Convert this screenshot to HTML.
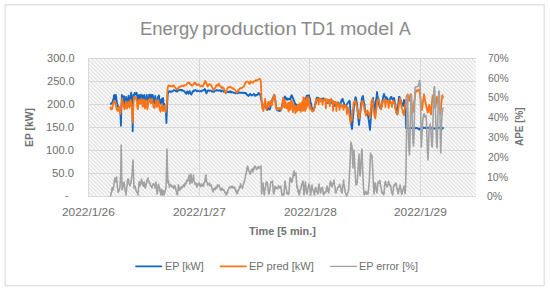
<!DOCTYPE html>
<html><head><meta charset="utf-8"><title>Energy production TD1 model A</title>
<style>
html,body{margin:0;padding:0;background:#fff;}
body{width:550px;height:291px;position:relative;overflow:hidden;font-family:"Liberation Sans",sans-serif;color:#666;}
.t{position:absolute;white-space:nowrap;line-height:1;transform-origin:0 0;}
</style></head><body>
<svg width="550" height="291" viewBox="0 0 550 291" style="position:absolute;left:0;top:0">
<defs><pattern id="h" width="2.8284" height="8" patternUnits="userSpaceOnUse" patternTransform="translate(90 58) rotate(-45)"><rect x="0" y="0" width="1.2" height="8" fill="#dbdbdb"/></pattern></defs>
<rect x="5.2" y="4.8" width="539" height="280.8" fill="#fff" stroke="#dedede" stroke-width="1.3"/>
<rect x="88.0" y="58.0" width="388.0" height="138.5" fill="url(#h)"/>
<line x1="88.0" x2="476.0" y1="58.50" y2="58.50" stroke="#d8d8d8" stroke-width="1"/>
<line x1="88.0" x2="476.0" y1="81.50" y2="81.50" stroke="#d8d8d8" stroke-width="1"/>
<line x1="88.0" x2="476.0" y1="104.50" y2="104.50" stroke="#d8d8d8" stroke-width="1"/>
<line x1="88.0" x2="476.0" y1="127.50" y2="127.50" stroke="#d8d8d8" stroke-width="1"/>
<line x1="88.0" x2="476.0" y1="150.50" y2="150.50" stroke="#d8d8d8" stroke-width="1"/>
<line x1="88.0" x2="476.0" y1="173.50" y2="173.50" stroke="#d8d8d8" stroke-width="1"/>
<line x1="88.0" x2="476.0" y1="196.50" y2="196.50" stroke="#d8d8d8" stroke-width="1"/>
<line x1="88.50" x2="88.50" y1="58.0" y2="196.5" stroke="#d8d8d8" stroke-width="1"/>
<line x1="199.50" x2="199.50" y1="58.0" y2="196.5" stroke="#d8d8d8" stroke-width="1"/>
<line x1="309.50" x2="309.50" y1="58.0" y2="196.5" stroke="#d8d8d8" stroke-width="1"/>
<line x1="420.50" x2="420.50" y1="58.0" y2="196.5" stroke="#d8d8d8" stroke-width="1"/>
<path d="M110.8,103.8 L111.2,103.9 L111.7,103.5 L112.1,102.5 L112.6,102.0 L113.0,100.2 L113.5,99.0 L113.8,96.6 L114.2,95.0 L114.5,97.5 L114.8,100.0 L115.1,99.1 L115.4,99.0 L115.9,95.0 L116.2,96.9 L116.5,100.0 L117.0,103.0 L117.5,104.7 L118.1,106.4 L118.6,108.0 L119.1,108.2 L119.7,107.6 L120.2,108.0 L120.6,116.9 L120.9,125.8 L121.2,114.9 L121.5,104.0 L121.9,95.0 L122.2,97.4 L122.5,101.0 L122.8,102.2 L123.2,103.0 L123.6,99.7 L124.0,96.2 L124.3,100.1 L124.6,102.0 L125.0,105.0 L125.3,103.6 L125.6,102.0 L125.9,99.3 L126.2,96.8 L126.5,99.9 L126.8,102.0 L127.1,103.1 L127.4,104.0 L127.7,102.9 L128.0,101.0 L128.3,98.2 L128.6,95.6 L128.9,98.4 L129.2,101.0 L129.5,102.9 L129.8,104.0 L130.2,101.8 L130.5,99.0 L130.8,95.9 L131.2,92.6 L131.5,95.4 L131.8,99.0 L132.3,104.0 L132.7,131.3 L133.1,104.0 L133.6,94.8 L133.9,96.1 L134.2,97.0 L134.5,94.9 L134.8,92.8 L135.2,93.7 L135.7,94.0 L136.1,93.5 L136.6,92.8 L136.9,94.8 L137.2,96.0 L137.5,98.5 L137.8,101.0 L138.1,100.1 L138.4,99.0 L138.7,97.3 L139.0,95.0 L139.3,97.1 L139.6,100.0 L140.0,103.0 L140.3,100.3 L140.6,98.0 L141.0,94.6 L141.3,97.1 L141.6,100.0 L142.0,103.0 L142.3,100.0 L142.6,95.4 L142.9,98.2 L143.2,101.0 L143.5,102.8 L143.8,104.0 L144.1,99.6 L144.4,95.0 L144.7,97.4 L145.0,100.0 L145.3,100.9 L145.6,103.0 L145.9,103.9 L146.2,104.0 L146.5,99.5 L146.8,95.0 L147.1,98.3 L147.4,101.0 L147.7,102.0 L148.0,104.0 L148.3,101.8 L148.6,100.0 L148.9,97.8 L149.2,94.6 L149.5,97.4 L149.8,99.0 L150.1,99.5 L150.4,101.0 L150.7,97.3 L151.0,94.6 L151.3,97.3 L151.6,100.0 L151.9,101.8 L152.2,103.0 L152.5,99.1 L152.8,95.0 L153.1,97.6 L153.4,100.0 L153.7,101.1 L154.0,103.0 L154.3,103.5 L154.6,103.5 L154.9,100.2 L155.2,96.0 L155.5,98.3 L155.8,101.0 L156.1,101.9 L156.4,104.0 L156.7,103.2 L157.0,103.0 L157.3,101.3 L157.6,99.0 L157.9,97.1 L158.2,96.6 L158.6,96.0 L158.9,95.4 L159.4,100.0 L159.7,101.1 L160.0,103.0 L160.3,101.4 L160.6,100.0 L160.9,102.1 L161.3,104.4 L161.6,101.7 L161.9,99.0 L162.2,101.1 L162.5,102.0 L162.8,100.2 L163.1,98.0 L163.4,102.6 L163.7,106.8 L164.0,105.3 L164.3,104.0 L164.6,105.8 L164.9,108.0 L165.4,109.2 L165.8,110.0 L166.1,116.2 L166.4,123.0 L166.7,115.5 L167.0,108.0 L167.3,102.0 L167.6,96.0 L167.9,93.8 L168.2,92.5 L168.6,92.1 L168.9,91.5 L169.3,91.4 L169.8,91.0 L170.2,91.8 L170.7,91.8 L171.1,91.6 L171.6,91.9 L172.1,91.3 L172.7,91.0 L173.1,90.6 L173.4,90.7 L173.8,90.0 L174.3,90.3 L174.8,90.5 L175.3,90.8 L175.8,91.2 L176.4,90.7 L176.9,91.5 L177.4,91.4 L178.0,90.6 L178.4,90.1 L178.8,90.3 L179.2,90.0 L179.7,89.7 L180.2,89.7 L180.7,90.0 L181.2,89.9 L181.7,90.6 L182.2,90.0 L182.6,90.5 L182.9,90.4 L183.3,90.8 L183.7,90.9 L184.1,90.9 L184.5,91.5 L184.8,92.0 L185.2,92.6 L185.6,93.0 L186.0,93.8 L186.4,93.3 L186.8,92.4 L187.2,91.4 L187.5,91.2 L188.0,92.6 L188.3,93.1 L188.6,93.8 L188.9,92.8 L189.2,92.4 L189.5,91.6 L189.8,91.2 L190.2,92.3 L190.5,93.0 L190.9,93.8 L191.3,94.6 L191.7,93.9 L192.0,92.8 L192.4,92.4 L192.8,91.2 L193.3,91.4 L193.8,90.5 L194.3,90.8 L194.8,90.8 L195.3,90.0 L195.8,90.4 L196.4,90.5 L196.9,91.2 L197.4,90.6 L198.0,90.8 L198.5,90.9 L199.0,91.2 L199.5,91.3 L200.0,91.5 L200.5,91.3 L201.0,90.9 L201.5,91.3 L202.0,91.0 L202.5,90.5 L203.0,90.4 L203.5,90.1 L203.9,89.8 L204.4,89.6 L204.9,88.9 L205.2,90.1 L205.6,91.0 L206.0,92.4 L206.4,93.4 L206.8,92.4 L207.2,91.5 L207.6,90.6 L208.0,90.4 L208.5,90.3 L209.0,90.8 L209.5,90.9 L209.9,90.7 L210.4,90.5 L210.9,90.8 L211.4,90.8 L211.9,91.6 L212.5,91.8 L213.1,91.4 L213.6,91.9 L214.1,91.6 L214.6,90.8 L215.1,90.6 L215.7,90.7 L216.2,90.3 L216.7,90.0 L217.2,90.4 L217.6,90.5 L218.1,90.5 L218.6,90.7 L219.0,90.3 L219.5,90.5 L220.0,90.2 L220.6,90.8 L221.1,91.5 L221.6,90.8 L222.2,90.4 L222.7,90.8 L223.2,91.1 L223.7,91.7 L224.2,91.2 L224.8,92.0 L225.3,91.9 L225.8,92.3 L226.4,92.6 L226.9,92.3 L227.4,92.0 L228.0,91.8 L228.5,92.3 L228.9,91.6 L229.4,91.4 L229.8,92.1 L230.3,91.5 L230.7,91.4 L231.2,92.5 L231.6,92.0 L232.0,92.2 L232.5,92.1 L232.9,92.5 L233.4,92.7 L233.9,92.9 L234.3,93.0 L234.8,93.2 L235.2,93.4 L235.7,92.4 L236.1,92.8 L236.5,92.9 L237.0,92.8 L237.5,93.4 L238.0,92.2 L238.5,92.7 L239.0,92.8 L239.5,92.4 L239.9,92.5 L240.4,92.9 L240.9,92.8 L241.3,93.1 L241.8,92.6 L242.3,92.5 L242.9,92.8 L243.4,93.1 L244.0,93.0 L244.5,92.7 L245.1,93.2 L245.6,92.9 L246.1,93.2 L246.7,94.5 L247.2,94.5 L247.6,95.0 L247.9,95.5 L248.3,96.0 L248.8,95.5 L249.2,94.8 L249.7,94.5 L250.2,93.7 L250.6,94.7 L251.0,94.7 L251.3,95.1 L251.7,95.6 L252.1,95.1 L252.6,94.8 L253.1,94.6 L253.6,94.1 L254.1,94.0 L254.5,94.5 L255.0,95.8 L255.5,95.0 L256.0,95.6 L256.5,94.9 L257.0,94.8 L257.6,94.8 L258.1,93.8 L258.6,92.9 L259.2,93.4 L259.6,94.1 L260.0,94.6 L260.4,95.2 L260.7,97.1 L261.0,98.0 L261.5,101.2 L262.0,104.0 L262.5,106.8 L263.0,109.0 L263.5,108.0 L264.0,106.0 L264.5,103.7 L265.0,102.0 L265.5,105.1 L266.0,108.0 L266.5,107.8 L267.0,110.0 L267.5,109.5 L268.0,108.0 L268.5,107.8 L268.9,108.6 L269.4,109.5 L269.8,109.3 L270.1,108.7 L270.5,107.0 L271.0,104.6 L271.5,104.0 L271.9,103.8 L272.3,100.0 L272.6,98.3 L273.0,97.6 L273.4,97.7 L273.8,96.2 L274.1,96.6 L274.5,95.2 L275.0,98.0 L275.4,101.2 L275.8,104.0 L276.2,106.2 L276.6,108.0 L277.1,110.3 L277.5,110.1 L278.0,110.0 L278.5,110.7 L279.0,109.0 L279.5,111.0 L280.0,109.7 L280.5,110.7 L281.0,109.0 L281.5,107.5 L282.0,104.8 L282.5,104.0 L283.0,101.4 L283.5,100.0 L283.9,98.5 L284.3,97.5 L284.6,97.6 L285.0,96.4 L285.4,97.5 L285.8,98.0 L286.1,99.6 L286.5,99.4 L286.9,98.3 L287.3,98.6 L287.6,99.9 L288.0,99.4 L288.5,98.8 L289.0,99.2 L289.4,98.7 L289.9,98.8 L290.4,99.5 L290.8,97.0 L291.2,96.2 L291.7,95.2 L292.1,96.2 L292.6,97.5 L293.1,98.6 L293.5,100.0 L293.9,100.6 L294.4,101.8 L294.9,104.1 L295.3,103.6 L295.8,105.3 L296.2,104.6 L296.6,105.6 L297.0,105.4 L297.5,105.6 L298.0,106.5 L298.5,105.6 L299.1,105.6 L299.6,106.2 L300.1,106.3 L300.7,106.0 L301.1,106.7 L301.6,108.8 L302.0,108.0 L302.5,110.4 L303.0,109.7 L303.5,109.0 L304.0,106.0 L304.5,101.8 L305.0,101.0 L305.5,100.9 L306.0,97.5 L306.4,97.3 L306.7,95.8 L307.1,95.5 L307.4,96.0 L307.8,96.2 L308.2,96.9 L308.6,96.6 L309.0,95.2 L309.4,97.4 L309.8,98.0 L310.2,100.1 L310.6,102.0 L311.1,104.0 L311.5,106.0 L311.9,108.2 L312.4,109.0 L312.9,109.9 L313.3,111.0 L313.7,109.2 L314.1,108.4 L314.5,108.0 L314.9,105.9 L315.3,104.3 L315.7,102.0 L316.1,102.6 L316.5,98.0 L316.9,97.8 L317.3,98.2 L317.6,97.6 L318.0,97.6 L318.5,98.2 L319.0,98.2 L319.5,99.8 L320.0,99.0 L320.5,99.9 L321.0,98.6 L321.5,99.0 L322.0,99.6 L322.5,98.8 L323.0,99.0 L323.5,98.3 L324.0,100.0 L324.5,99.6 L325.0,99.3 L325.5,100.8 L326.0,100.0 L326.5,99.6 L327.0,99.6 L327.5,101.9 L328.0,103.0 L328.5,102.6 L329.0,101.0 L329.5,100.8 L330.0,99.8 L330.5,101.4 L331.0,101.0 L331.5,101.9 L332.0,103.0 L332.5,101.5 L333.0,101.5 L333.5,101.4 L334.0,103.5 L334.5,105.6 L335.0,106.0 L335.5,104.7 L336.0,104.0 L336.5,103.2 L337.0,103.0 L337.5,103.5 L338.0,102.5 L338.5,103.0 L339.0,105.0 L339.5,107.1 L340.0,106.0 L340.5,104.6 L341.0,102.0 L341.5,100.5 L342.0,100.0 L342.4,98.9 L342.7,99.0 L343.1,101.5 L343.5,102.0 L343.9,102.4 L344.3,105.0 L344.6,105.4 L345.0,107.0 L345.5,106.5 L346.0,106.0 L346.5,105.2 L347.0,104.0 L347.5,103.3 L348.0,102.5 L348.5,102.2 L349.0,101.2 L349.4,100.8 L349.8,101.0 L350.3,110.0 L350.6,116.0 L351.0,122.0 L351.5,126.6 L352.0,129.0 L352.5,123.7 L353.0,118.0 L353.5,111.9 L354.0,106.0 L354.5,104.5 L355.0,100.0 L355.5,97.2 L356.0,98.0 L356.5,101.1 L357.0,104.0 L357.5,110.2 L358.0,116.0 L358.5,120.8 L359.0,125.0 L359.5,120.5 L360.0,116.0 L360.5,109.9 L361.0,104.0 L361.5,101.5 L362.0,98.0 L362.5,96.8 L363.0,96.0 L363.5,99.9 L364.0,103.0 L364.5,103.9 L365.0,110.0 L365.5,111.3 L366.0,112.0 L366.5,111.8 L367.0,113.0 L367.5,114.8 L368.0,115.0 L368.5,119.2 L369.0,122.0 L369.5,126.7 L370.0,130.0 L370.5,122.9 L371.0,116.0 L371.5,110.1 L372.0,104.0 L372.5,100.7 L373.0,98.0 L373.5,102.2 L374.0,106.0 L374.5,108.9 L375.0,112.0 L375.5,105.8 L376.0,100.0 L376.5,97.8 L377.0,92.0 L377.5,95.7 L378.0,98.0 L378.5,99.1 L379.0,104.0 L379.5,106.8 L380.0,108.0 L380.5,107.2 L381.0,109.0 L381.5,106.3 L382.0,104.0 L382.5,100.5 L383.0,98.0 L383.5,95.5 L384.0,94.0 L384.5,95.7 L385.0,97.0 L385.5,97.7 L386.0,99.0 L386.5,97.2 L387.0,98.0 L387.5,99.0 L388.0,100.0 L388.5,100.8 L389.0,101.0 L389.5,101.6 L390.0,99.0 L390.5,97.6 L391.0,97.0 L391.5,96.9 L392.0,99.0 L392.5,99.2 L393.0,100.0 L393.5,99.6 L394.0,98.0 L394.5,100.2 L395.0,104.0 L395.5,106.4 L396.0,110.0 L396.5,112.5 L397.0,114.0 L397.5,110.0 L398.0,106.0 L398.5,101.6 L399.0,97.0 L399.5,96.9 L400.0,98.0 L400.5,99.3 L401.0,102.0 L401.5,103.2 L402.0,105.0 L402.5,105.4 L403.0,106.0 L403.5,102.7 L404.0,100.0 L404.5,102.4 L405.0,104.0 L405.3,107.5 L405.6,110.0 L406.0,128.0 L406.5,128.1 L407.0,128.1 L407.5,127.8 L408.0,128.0 L408.5,127.8 L409.0,128.4 L409.5,128.2 L410.0,128.3 L410.5,128.3 L411.0,127.9 L411.5,128.0 L412.0,128.0 L412.5,127.9 L413.0,127.9 L413.5,128.0 L414.0,128.2 L414.5,127.8 L415.0,128.1 L415.5,128.3 L416.0,128.0 L416.5,127.9 L417.0,128.3 L417.5,128.1 L418.0,128.5 L418.5,129.2 L419.0,129.5 L419.5,129.5 L420.0,128.5 L420.5,128.1 L421.0,128.2 L421.5,128.5 L422.0,128.0 L422.5,128.1 L423.0,128.0 L423.5,127.5 L424.0,128.0 L424.5,127.8 L425.0,128.0 L425.5,128.0 L426.0,127.5 L426.5,127.8 L427.0,127.6 L427.5,127.7 L428.0,128.0 L428.5,127.6 L429.0,127.8 L429.5,128.4 L430.0,128.2 L430.5,128.1 L431.0,127.8 L431.5,128.4 L432.0,128.0 L432.5,127.7 L433.0,128.5 L433.5,128.1 L434.0,128.3 L434.5,128.4 L435.0,128.6 L435.5,128.5 L436.0,128.5 L436.5,128.7 L437.0,128.3 L437.5,128.0 L438.0,128.0 L438.5,127.8 L439.0,127.6 L439.5,127.8 L440.0,128.0 L440.5,128.2 L441.0,128.2 L441.5,128.3 L442.0,128.0 L442.5,128.7 L443.0,128.0" fill="none" stroke="#1267c4" stroke-width="1.85" stroke-linejoin="round" stroke-linecap="round"/>
<path d="M110.6,107.4 L111.1,109.2 L111.5,108.3 L112.0,109.2 L112.4,107.4 L112.8,105.3 L113.2,103.2 L113.6,102.8 L114.0,100.9 L114.4,100.8 L114.8,101.8 L115.2,102.8 L115.6,104.4 L116.0,105.7 L116.4,107.6 L116.8,109.8 L117.2,109.9 L117.6,110.5 L118.0,111.0 L118.4,109.1 L118.8,108.4 L119.2,106.8 L119.6,108.9 L120.0,110.0 L120.4,114.0 L120.8,111.0 L121.2,107.5 L121.6,104.4 L121.9,101.0 L122.2,98.4 L122.5,100.8 L122.8,103.0 L123.1,105.0 L123.4,106.8 L123.8,107.6 L124.2,108.0 L124.6,109.2 L124.9,107.7 L125.2,106.0 L125.5,103.0 L125.8,101.5 L126.1,104.0 L126.4,105.0 L126.7,106.1 L127.0,108.5 L127.3,106.6 L127.6,105.0 L127.9,103.4 L128.2,101.8 L128.5,103.0 L128.8,104.0 L129.1,105.6 L129.4,107.4 L129.7,105.9 L130.0,104.0 L130.3,100.2 L130.6,100.0 L130.9,101.9 L131.2,104.0 L131.5,105.9 L131.8,108.0 L132.2,115.2 L132.7,122.5 L133.0,114.5 L133.3,106.0 L133.6,101.4 L133.9,97.2 L134.2,98.0 L134.6,99.0 L135.0,96.7 L135.4,96.6 L135.7,97.4 L136.0,98.0 L136.3,98.5 L136.6,100.8 L136.9,102.0 L137.2,105.0 L137.5,108.2 L137.8,109.2 L138.1,106.9 L138.4,104.0 L138.7,101.7 L139.0,99.6 L139.3,100.3 L139.6,101.0 L139.9,101.6 L140.2,103.8 L140.5,101.8 L140.8,101.0 L141.1,100.0 L141.4,98.8 L141.7,99.8 L142.0,103.0 L142.3,105.0 L142.6,106.8 L142.9,104.5 L143.2,104.0 L143.5,101.7 L143.8,99.5 L144.1,101.1 L144.4,104.0 L144.7,107.1 L145.0,108.6 L145.3,107.2 L145.6,105.0 L145.9,102.3 L146.2,100.2 L146.5,101.6 L146.8,105.0 L147.1,106.6 L147.4,109.2 L147.7,107.0 L148.0,105.0 L148.3,101.9 L148.6,100.0 L148.9,101.1 L149.2,102.0 L149.5,100.8 L149.8,98.8 L150.1,99.8 L150.4,101.0 L150.7,101.8 L151.0,103.2 L151.3,102.4 L151.6,101.0 L151.9,99.7 L152.2,98.8 L152.5,101.3 L152.8,103.0 L153.1,104.4 L153.4,106.2 L153.7,107.4 L154.0,107.0 L154.3,107.3 L154.6,108.0 L154.9,105.9 L155.2,105.0 L155.5,102.6 L155.8,100.2 L156.1,101.7 L156.4,104.0 L156.7,104.9 L157.0,106.8 L157.3,105.3 L157.6,104.0 L157.9,102.3 L158.2,100.0 L158.5,100.8 L158.8,104.0 L159.1,105.9 L159.4,108.0 L159.7,108.9 L160.0,110.0 L160.3,110.7 L160.6,111.6 L160.9,110.1 L161.2,108.0 L161.5,105.3 L161.8,104.0 L162.1,106.3 L162.4,108.0 L162.7,109.3 L163.0,111.0 L163.3,110.0 L163.6,109.0 L163.9,107.3 L164.2,106.0 L164.5,107.3 L164.8,109.0 L165.1,110.3 L165.4,112.2 L165.9,110.2 L166.4,108.0 L166.7,105.0 L167.0,100.0 L167.4,90.0 L167.7,88.7 L168.0,86.5 L168.5,85.5 L169.0,85.9 L169.5,86.0 L170.0,86.0 L170.5,85.9 L171.1,86.3 L171.6,86.2 L172.1,86.7 L172.7,85.8 L173.1,85.2 L173.4,85.9 L173.8,85.5 L174.3,86.5 L174.8,86.9 L175.3,87.5 L175.8,88.3 L176.4,89.2 L176.9,89.3 L177.4,89.4 L178.0,88.0 L178.4,88.0 L178.8,87.6 L179.2,86.6 L179.6,86.6 L180.1,86.7 L180.6,86.3 L181.0,86.2 L181.5,86.2 L181.9,85.8 L182.4,86.1 L182.9,85.8 L183.4,86.2 L184.0,85.5 L184.5,85.4 L185.0,85.4 L185.5,85.4 L186.0,85.1 L186.6,84.3 L187.1,83.6 L187.6,83.3 L188.2,82.4 L188.6,82.8 L188.9,82.6 L189.3,83.4 L189.7,83.3 L190.1,84.2 L190.5,84.3 L190.9,84.9 L191.4,85.0 L191.9,85.6 L192.4,85.5 L192.8,85.1 L193.3,84.6 L193.7,84.0 L194.2,83.0 L194.6,83.7 L195.1,82.8 L195.6,83.1 L196.2,84.0 L196.6,84.7 L196.9,84.3 L197.3,85.1 L197.8,84.6 L198.3,84.7 L198.8,84.4 L199.2,84.7 L199.6,85.1 L200.0,85.8 L200.5,86.2 L201.0,86.2 L201.5,86.0 L202.0,86.3 L202.5,86.2 L203.0,86.5 L203.4,85.2 L203.8,84.3 L204.2,83.5 L204.6,82.4 L204.9,81.7 L205.3,80.9 L205.9,82.5 L206.4,83.5 L206.8,84.5 L207.2,85.3 L207.6,86.6 L208.1,85.6 L208.5,85.0 L209.0,84.9 L209.5,84.0 L210.0,84.5 L210.5,84.8 L210.9,85.1 L211.4,85.2 L211.9,86.7 L212.5,88.0 L213.1,89.4 L213.6,90.4 L214.1,89.3 L214.7,88.2 L215.1,88.1 L215.5,87.4 L215.9,86.6 L216.4,85.1 L216.9,85.5 L217.4,85.0 L217.9,85.7 L218.4,83.9 L218.9,84.0 L219.4,84.9 L220.0,85.8 L220.4,86.7 L220.8,86.9 L221.2,87.4 L221.6,88.0 L221.9,87.2 L222.3,87.7 L222.7,87.4 L223.1,87.9 L223.5,88.1 L224.1,89.0 L224.6,90.5 L225.0,91.1 L225.4,92.6 L225.8,93.4 L226.4,91.8 L226.9,90.0 L227.4,88.7 L228.0,87.4 L228.6,87.1 L229.1,87.1 L229.5,87.2 L229.9,87.0 L230.3,87.0 L230.7,87.0 L231.2,87.7 L231.6,87.9 L232.0,88.0 L232.5,88.3 L232.9,88.7 L233.4,88.3 L233.8,88.9 L234.3,89.2 L234.7,89.5 L235.2,90.7 L235.6,90.8 L236.0,91.4 L236.5,92.5 L236.9,92.2 L237.3,92.1 L237.8,90.8 L238.2,90.3 L238.7,89.4 L239.1,89.5 L239.6,88.8 L240.0,88.5 L240.5,88.4 L240.9,87.9 L241.4,88.4 L241.8,88.0 L242.2,87.7 L242.6,87.5 L243.0,87.0 L243.6,86.7 L244.1,86.1 L244.6,84.7 L245.0,84.0 L245.5,82.2 L246.0,82.0 L246.5,81.8 L247.0,81.5 L247.5,81.6 L248.1,82.0 L248.6,82.8 L249.0,83.5 L249.4,83.4 L249.8,83.8 L250.2,82.3 L250.6,81.2 L251.1,82.1 L251.5,82.0 L252.0,82.4 L252.5,82.7 L253.1,82.4 L253.6,81.6 L254.1,81.4 L254.7,80.8 L255.2,80.9 L255.7,80.1 L256.2,80.4 L256.7,80.7 L257.3,80.2 L257.8,80.1 L258.4,79.4 L258.9,79.4 L259.4,79.3 L259.9,78.7 L260.0,79.0 L260.4,79.6 L260.7,80.0 L261.1,88.0 L261.5,98.0 L261.9,102.5 L262.2,106.0 L262.6,108.4 L263.0,109.7 L263.4,111.0 L263.9,105.9 L264.3,104.0 L264.8,103.1 L265.2,98.8 L265.5,102.9 L265.8,104.0 L266.1,107.6 L266.4,109.7 L266.9,107.8 L267.3,105.0 L267.8,104.6 L268.2,101.8 L268.5,102.3 L268.8,104.5 L269.1,106.5 L269.4,107.0 L269.7,105.5 L270.0,104.0 L270.3,101.5 L270.6,101.0 L270.9,102.4 L271.2,103.0 L271.5,104.4 L271.8,105.0 L272.1,105.0 L272.4,101.5 L272.7,101.1 L273.0,98.8 L273.3,96.5 L273.6,97.5 L273.9,95.0 L274.2,96.4 L274.5,96.6 L274.8,97.0 L275.2,97.6 L275.6,103.0 L276.0,108.5 L276.4,108.6 L276.9,109.2 L277.4,108.5 L277.8,109.7 L278.2,108.1 L278.6,109.2 L279.0,109.3 L279.4,108.0 L279.8,108.4 L280.2,109.0 L280.6,109.6 L281.1,108.5 L281.6,108.4 L282.0,107.9 L282.3,104.4 L282.6,102.5 L282.9,98.9 L283.2,97.6 L283.3,103.7 L283.6,105.2 L283.9,107.1 L284.2,105.3 L284.5,100.0 L284.8,103.3 L285.1,107.7 L285.4,106.7 L285.7,102.3 L286.1,107.8 L286.4,105.6 L286.7,105.1 L287.0,106.6 L287.4,108.6 L287.7,106.6 L287.9,103.2 L288.2,107.1 L288.5,111.5 L289.0,102.6 L289.5,110.2 L289.8,106.4 L290.1,102.5 L290.4,104.6 L290.7,109.4 L291.2,100.4 L291.6,102.9 L291.9,104.1 L292.2,104.1 L292.5,101.8 L293.0,112.1 L293.3,107.9 L293.6,104.9 L294.1,109.0 L294.4,107.6 L294.8,105.9 L295.1,109.1 L295.4,113.1 L295.7,107.6 L296.1,106.5 L296.3,111.7 L296.6,111.4 L297.1,106.0 L297.5,108.8 L297.8,110.4 L298.2,104.5 L298.7,109.9 L299.2,104.7 L299.7,110.1 L300.1,103.3 L300.7,111.9 L301.2,103.5 L301.7,109.3 L302.2,101.7 L302.5,106.5 L302.7,110.8 L303.1,104.2 L303.4,97.4 L303.7,103.6 L304.0,109.7 L304.5,98.4 L304.8,105.4 L305.1,111.0 L305.4,105.2 L305.6,100.5 L306.0,104.2 L306.3,108.5 L306.6,102.9 L306.9,97.7 L307.3,106.3 L307.6,101.6 L308.0,97.0 L308.3,101.5 L308.6,105.5 L309.1,98.8 L309.3,103.5 L309.6,108.7 L310.0,106.3 L310.3,106.5 L310.6,106.6 L310.9,109.0 L311.4,110.0 L311.8,110.0 L312.2,111.5 L312.7,111.0 L313.1,111.0 L313.5,110.9 L313.9,108.5 L314.3,107.1 L314.7,107.8 L315.1,106.0 L315.4,104.9 L315.7,102.5 L316.0,100.8 L316.3,99.4 L316.4,100.4 L316.7,99.6 L317.0,100.2 L317.3,100.6 L317.6,99.1 L317.9,98.5 L318.2,99.2 L318.6,104.4 L319.1,99.7 L319.4,99.2 L319.7,99.3 L320.0,98.7 L320.3,100.0 L320.6,101.7 L320.9,100.0 L321.2,99.8 L321.5,99.8 L321.8,99.5 L322.1,100.1 L322.6,104.8 L323.0,100.7 L323.3,100.3 L323.6,100.3 L323.9,100.1 L324.2,100.2 L324.5,100.4 L324.8,100.4 L325.1,98.9 L325.4,100.8 L325.9,108.1 L326.3,100.7 L326.6,99.5 L326.9,100.6 L327.2,101.0 L327.5,100.5 L327.8,101.9 L328.1,101.1 L328.4,100.0 L328.7,101.0 L329.0,101.0 L329.3,100.7 L329.8,106.2 L330.2,101.5 L330.5,100.8 L330.8,101.1 L331.1,98.8 L331.4,101.1 L331.7,100.9 L332.0,101.3 L332.3,100.3 L332.6,101.4 L333.1,110.7 L333.5,101.8 L333.8,103.2 L334.1,102.8 L334.4,102.5 L334.7,102.6 L335.0,102.9 L335.3,103.2 L335.6,101.8 L335.9,103.3 L336.4,111.0 L336.8,103.8 L337.1,104.4 L337.4,104.7 L337.7,102.5 L338.0,104.2 L338.3,105.3 L338.6,105.9 L338.9,106.9 L339.2,105.1 L339.6,109.8 L340.1,105.3 L340.4,104.1 L340.7,105.4 L341.0,106.2 L341.3,105.3 L341.6,106.8 L341.9,105.5 L342.2,105.2 L342.5,105.4 L342.8,106.7 L343.1,105.8 L343.6,109.8 L344.0,105.9 L344.3,106.3 L344.6,106.5 L344.9,106.0 L345.2,106.6 L345.5,104.9 L345.8,107.3 L346.1,106.3 L346.4,107.5 L346.9,114.3 L347.3,108.2 L347.6,107.0 L347.9,108.7 L348.2,111.5 L348.5,109.7 L349.0,112.6 L349.5,115.0 L349.9,118.7 L350.4,122.7 L350.8,120.0 L351.2,120.0 L351.6,120.6 L352.0,117.7 L352.4,113.0 L352.9,109.0 L353.3,107.2 L353.7,102.5 L354.1,102.8 L354.5,101.0 L354.9,101.0 L355.4,100.8 L355.8,101.7 L356.2,104.0 L356.6,105.8 L357.1,107.6 L357.6,109.0 L358.1,113.0 L358.6,116.4 L359.1,118.5 L359.6,117.4 L360.0,113.0 L360.4,112.0 L360.8,109.3 L361.2,107.7 L361.6,104.0 L362.1,101.7 L362.5,100.8 L362.9,102.2 L363.2,103.0 L363.5,103.4 L363.8,105.9 L364.2,107.5 L364.6,110.0 L365.1,112.5 L365.5,113.5 L365.9,115.5 L366.3,112.6 L366.7,112.0 L367.1,112.2 L367.6,110.5 L368.0,112.6 L368.4,113.6 L368.7,113.3 L369.1,115.0 L369.6,114.9 L370.2,117.7 L370.5,112.9 L370.8,109.0 L371.1,105.9 L371.4,102.5 L371.7,100.8 L372.0,100.0 L372.3,100.3 L372.6,99.2 L372.9,101.9 L373.2,105.0 L373.5,107.9 L373.9,110.9 L374.2,114.4 L374.6,115.0 L375.0,117.6 L375.3,118.5 L375.8,114.5 L376.2,110.0 L376.6,107.7 L377.0,102.5 L377.4,101.7 L377.8,100.5 L378.2,99.3 L378.6,100.0 L379.0,100.9 L379.4,101.8 L379.8,105.0 L380.2,106.8 L380.6,107.5 L381.0,109.3 L381.4,108.2 L381.8,106.0 L382.2,104.3 L382.7,101.0 L383.1,101.7 L383.4,100.5 L383.7,101.0 L384.0,100.3 L384.3,99.3 L384.6,100.5 L384.9,99.2 L385.4,107.0 L385.8,100.8 L386.1,101.2 L386.4,101.5 L386.7,102.6 L387.0,101.8 L387.3,101.8 L387.6,102.1 L387.9,101.0 L388.2,101.9 L388.6,108.0 L389.1,102.4 L389.4,102.0 L389.7,102.2 L390.0,100.3 L390.3,102.3 L390.6,103.0 L390.9,102.4 L391.2,102.2 L391.5,103.1 L391.9,106.9 L392.4,102.9 L392.7,103.9 L393.0,102.2 L393.3,100.6 L393.6,101.5 L393.9,102.1 L394.2,102.5 L394.5,103.5 L394.8,103.9 L395.2,108.5 L395.7,104.7 L395.0,106.0 L395.4,108.1 L395.8,110.6 L396.2,112.2 L396.7,113.0 L397.2,113.0 L397.7,114.5 L398.1,111.3 L398.4,108.4 L398.8,106.0 L399.2,102.8 L399.6,99.9 L400.0,98.1 L400.5,100.8 L401.0,103.0 L401.4,105.5 L401.9,108.7 L402.4,109.7 L402.8,112.0 L403.3,113.0 L403.8,115.4 L404.2,110.8 L404.6,110.0 L405.0,107.0 L405.4,104.8 L405.8,102.8 L406.2,100.0 L406.6,96.7 L407.0,96.0 L407.4,94.9 L407.7,94.3 L408.0,96.3 L408.4,97.0 L408.8,98.3 L409.2,101.0 L409.5,99.2 L409.9,97.0 L410.2,95.2 L410.6,94.3 L411.1,100.6 L411.5,102.0 L412.0,107.7 L412.5,112.5 L413.0,111.4 L413.5,108.0 L414.0,103.3 L414.5,100.0 L414.9,97.2 L415.4,93.0 L415.9,91.5 L416.3,90.4 L416.7,91.0 L417.1,90.2 L417.5,91.0 L418.0,90.8 L418.5,90.2 L418.9,89.5 L419.2,90.6 L419.6,90.4 L420.0,95.5 L420.3,97.0 L420.6,99.6 L421.0,105.0 L421.5,106.2 L422.0,110.0 L422.5,105.7 L423.0,101.0 L423.5,98.5 L424.0,94.3 L424.5,96.8 L425.0,100.0 L425.5,103.1 L426.0,105.0 L426.5,107.4 L427.0,109.0 L427.4,111.3 L427.9,112.5 L428.2,111.6 L428.6,108.0 L429.0,105.8 L429.4,105.0 L429.8,108.2 L430.2,110.0 L430.6,112.5 L431.0,114.5 L431.4,109.0 L431.8,104.0 L432.2,99.8 L432.7,95.2 L433.1,96.3 L433.6,100.0 L434.1,101.0 L434.5,105.0 L435.0,107.6 L435.5,108.0 L435.9,103.9 L436.3,102.0 L436.6,101.2 L437.0,97.0 L437.5,100.6 L438.0,102.0 L438.5,104.5 L439.0,108.0 L439.5,109.3 L439.9,110.1 L440.4,114.5 L440.9,109.2 L441.3,104.0 L441.8,99.1 L442.3,95.2 L442.6,97.7 L443.0,97.0" fill="none" stroke="#fb7516" stroke-width="1.85" stroke-linejoin="round" stroke-linecap="round"/>
<path d="M110.6,196.0 L110.9,194.1 L111.3,192.0 L111.7,191.9 L112.0,188.0 L112.5,187.6 L113.0,190.0 L113.5,188.0 L114.0,183.0 L114.5,180.1 L115.0,178.0 L115.5,179.6 L116.0,182.0 L116.3,182.3 L116.6,177.0 L116.9,181.6 L117.3,186.0 L117.7,188.9 L118.0,192.0 L118.5,192.1 L119.0,190.0 L119.5,189.7 L120.0,186.0 L120.3,180.5 L120.7,175.0 L121.2,145.0 L121.7,175.0 L122.0,190.0 L122.5,188.9 L123.0,186.0 L123.5,182.5 L124.0,182.0 L124.5,185.4 L125.0,190.0 L125.5,191.8 L126.0,195.0 L126.5,189.9 L127.0,186.0 L127.5,180.2 L128.0,179.0 L128.5,179.1 L129.0,184.0 L129.5,184.6 L130.0,186.0 L130.5,184.2 L131.0,183.0 L131.5,178.5 L132.0,175.0 L132.5,167.5 L133.0,160.0 L133.3,168.4 L133.6,178.0 L134.0,188.0 L134.5,186.9 L135.0,186.0 L135.5,188.4 L136.0,190.0 L136.5,192.1 L137.0,192.0 L137.5,192.2 L138.0,195.0 L138.5,188.8 L139.0,183.0 L139.5,181.5 L140.0,186.0 L140.5,184.2 L141.0,184.0 L141.5,179.2 L142.0,181.0 L142.5,181.4 L143.0,186.0 L143.5,186.2 L144.0,183.0 L144.5,182.2 L145.0,188.0 L145.5,187.7 L146.0,185.0 L146.5,183.5 L147.0,181.0 L147.5,179.0 L148.0,178.0 L148.5,180.7 L149.0,182.0 L149.5,183.3 L150.0,183.0 L150.5,186.1 L151.0,186.0 L151.5,186.7 L152.0,188.0 L152.5,185.1 L153.0,184.0 L153.5,183.6 L154.0,185.0 L154.5,185.0 L155.0,188.0 L155.5,184.9 L156.0,182.0 L156.5,187.6 L157.0,194.0 L157.5,192.6 L158.0,188.0 L158.5,184.2 L159.0,186.0 L159.5,187.4 L160.0,192.0 L160.5,192.1 L161.0,195.0 L161.5,189.4 L162.0,190.0 L162.5,194.9 L163.0,194.0 L163.5,190.9 L164.0,195.0 L164.5,193.1 L165.0,192.0 L165.5,189.2 L166.0,188.0 L166.3,179.7 L166.6,170.0 L167.0,149.0 L167.5,172.0 L168.0,183.0 L168.5,181.0 L169.0,185.0 L169.5,187.1 L170.0,186.0 L170.5,184.4 L171.0,185.0 L171.5,185.8 L172.0,187.0 L172.5,186.0 L173.0,187.0 L173.5,188.5 L174.0,188.0 L174.5,185.3 L175.0,186.0 L175.5,187.9 L176.0,190.0 L176.5,192.5 L177.0,194.0 L177.5,194.8 L178.0,190.0 L178.5,184.9 L179.0,187.0 L179.5,190.3 L180.0,189.0 L180.5,189.4 L181.0,187.0 L181.5,186.8 L182.0,188.0 L182.5,187.5 L183.0,186.0 L183.5,184.8 L184.0,185.0 L184.5,186.5 L185.0,183.0 L185.5,183.8 L186.0,184.0 L186.5,181.7 L187.0,180.0 L187.5,180.2 L188.0,181.0 L188.5,177.7 L189.0,175.0 L189.5,179.4 L190.0,184.0 L190.5,178.6 L191.0,174.0 L191.5,179.4 L192.0,183.0 L192.5,178.6 L193.0,180.0 L193.5,175.1 L194.0,181.0 L194.5,182.3 L195.0,184.0 L195.5,183.3 L196.0,183.0 L196.5,185.6 L197.0,187.0 L197.5,185.2 L198.0,184.0 L198.5,183.3 L199.0,183.0 L199.5,185.0 L200.0,186.0 L200.5,186.5 L201.0,184.0 L201.5,184.3 L202.0,186.0 L202.5,184.4 L203.0,184.0 L203.5,186.4 L204.0,183.0 L204.5,182.8 L205.0,181.0 L205.5,176.5 L206.0,175.0 L206.5,182.0 L207.0,182.0 L207.5,184.7 L208.0,185.0 L208.5,183.6 L209.0,184.0 L209.5,183.2 L210.0,186.0 L210.5,185.9 L211.0,185.0 L211.5,185.8 L212.0,189.0 L212.5,188.9 L213.0,192.0 L213.5,189.1 L214.0,190.0 L214.5,188.2 L215.0,188.0 L215.5,189.2 L216.0,187.0 L216.5,186.8 L217.0,188.0 L217.5,184.8 L218.0,186.0 L218.5,186.5 L219.0,185.0 L219.5,186.6 L220.0,188.0 L220.5,189.8 L221.0,189.0 L221.5,190.3 L222.0,188.0 L222.5,188.7 L223.0,190.0 L223.5,189.8 L224.0,190.0 L224.5,191.4 L225.0,193.0 L225.5,192.3 L226.0,195.0 L226.5,194.5 L227.0,192.0 L227.5,193.1 L228.0,190.0 L228.5,189.3 L229.0,188.0 L229.5,187.1 L230.0,187.0 L230.5,187.1 L231.0,188.0 L231.5,186.3 L232.0,187.0 L232.5,186.3 L233.0,188.0 L233.5,187.4 L234.0,188.0 L234.5,187.2 L235.0,189.0 L235.5,189.8 L236.0,192.0 L236.5,190.6 L237.0,194.0 L237.5,193.0 L238.0,191.0 L238.5,190.1 L239.0,189.0 L239.5,186.8 L240.0,188.0 L240.5,183.6 L241.0,186.0 L241.5,186.5 L242.0,187.0 L242.5,188.2 L243.0,186.0 L243.5,183.4 L244.0,183.0 L244.5,180.3 L245.0,179.0 L245.5,175.6 L246.0,174.0 L246.5,172.0 L247.0,168.0 L247.5,166.1 L248.0,167.0 L248.5,170.5 L249.0,171.0 L249.5,172.0 L250.0,174.0 L250.5,173.9 L251.0,171.0 L251.5,170.0 L252.0,169.0 L252.5,170.2 L253.0,172.0 L253.5,168.3 L254.0,169.0 L254.5,166.5 L255.0,166.0 L255.5,166.6 L256.0,168.0 L256.5,169.5 L257.0,169.0 L257.5,168.4 L258.0,167.0 L258.5,166.5 L259.0,168.0 L259.5,168.1 L260.0,167.0 L260.5,168.0 L261.0,166.0 L261.3,179.9 L261.6,194.0 L262.0,190.3 L262.3,188.0 L262.6,184.9 L263.0,183.0 L263.4,187.7 L263.7,190.0 L264.0,193.3 L264.4,195.0 L264.7,191.1 L265.0,190.0 L265.5,187.1 L266.0,183.0 L266.5,181.8 L267.0,182.0 L267.5,183.9 L268.0,188.0 L268.5,192.9 L269.0,194.0 L269.5,192.2 L270.0,188.0 L270.5,183.9 L271.0,182.0 L271.5,181.8 L271.9,182.1 L272.4,181.0 L272.7,183.5 L273.0,188.0 L273.3,190.8 L273.6,194.0 L274.1,193.0 L274.5,190.0 L275.0,186.3 L275.5,188.5 L276.0,187.0 L276.5,188.6 L277.0,188.0 L277.5,188.8 L278.0,188.0 L278.5,185.5 L279.0,187.0 L279.5,188.0 L280.0,188.0 L280.5,186.2 L281.0,187.0 L281.5,192.0 L282.0,195.0 L282.5,195.4 L283.0,194.0 L283.5,194.9 L284.0,194.0 L284.5,186.0 L285.0,181.0 L285.5,184.8 L286.0,188.0 L286.5,189.9 L287.0,194.0 L287.5,192.6 L288.0,193.0 L288.5,194.3 L289.0,193.0 L289.5,184.0 L290.0,178.0 L290.5,177.7 L291.0,180.0 L291.5,181.7 L292.0,182.0 L292.5,179.8 L293.0,176.0 L293.5,173.1 L294.0,171.0 L294.5,175.6 L295.0,173.0 L295.5,173.1 L296.0,173.0 L296.5,181.5 L297.0,188.0 L297.5,187.0 L298.0,192.0 L298.5,190.1 L299.0,195.0 L299.5,194.0 L300.0,190.0 L300.5,190.0 L301.0,188.0 L301.5,185.5 L302.0,184.0 L302.5,182.4 L303.0,181.0 L303.5,187.1 L304.0,195.0 L304.5,190.4 L304.9,185.9 L305.4,182.0 L305.7,184.7 L306.0,188.0 L306.5,192.3 L307.0,194.0 L307.5,191.1 L308.0,188.0 L308.5,186.6 L309.0,184.0 L309.5,186.0 L310.0,190.0 L310.3,191.8 L310.6,195.0 L311.0,192.7 L311.3,190.0 L311.6,187.1 L312.0,185.0 L312.5,189.4 L313.0,190.0 L313.5,190.7 L314.0,194.0 L314.5,194.8 L315.0,190.0 L315.5,187.5 L316.0,188.0 L316.5,191.6 L317.0,192.0 L317.3,191.8 L317.6,194.0 L318.0,193.5 L318.3,188.0 L318.6,186.2 L319.0,184.0 L319.5,187.6 L320.0,190.0 L320.3,192.6 L320.6,193.0 L321.0,190.5 L321.3,190.0 L321.6,187.9 L322.0,189.0 L322.5,187.5 L323.0,192.0 L323.5,194.8 L324.0,194.0 L324.5,192.5 L325.0,193.0 L325.5,191.6 L326.0,192.0 L326.5,189.0 L327.0,186.0 L327.5,191.0 L328.0,190.0 L328.3,188.9 L328.6,193.0 L329.1,189.9 L329.6,186.0 L330.1,182.9 L330.6,181.0 L331.0,183.8 L331.3,185.0 L331.6,183.3 L332.0,187.0 L332.5,184.4 L333.0,183.0 L333.5,182.8 L334.0,180.0 L334.5,185.8 L335.0,187.0 L335.5,192.4 L336.0,193.0 L336.5,190.2 L337.0,190.0 L337.5,188.6 L338.0,187.0 L338.5,186.8 L339.0,187.0 L339.5,184.4 L340.0,186.0 L340.5,185.8 L341.0,190.0 L341.5,192.6 L342.0,193.0 L342.5,189.4 L343.0,185.0 L343.3,182.3 L343.6,180.0 L344.0,184.8 L344.3,186.0 L344.6,187.0 L345.0,191.0 L345.5,193.3 L346.0,194.0 L346.3,195.0 L346.6,196.0 L347.1,194.4 L347.6,193.0 L348.1,192.2 L348.6,190.0 L349.0,184.1 L349.3,178.0 L349.6,172.1 L350.0,166.0 L350.5,152.0 L351.0,142.0 L351.5,145.0 L352.0,146.0 L352.5,158.0 L353.0,168.0 L353.5,158.0 L354.0,150.0 L354.5,160.0 L355.0,170.0 L355.5,178.0 L356.0,185.0 L356.4,183.9 L356.7,182.0 L357.0,183.9 L357.4,180.0 L357.7,174.9 L358.0,170.0 L358.5,160.0 L359.0,154.0 L359.5,166.0 L360.0,176.0 L360.4,173.5 L360.7,168.0 L361.0,162.3 L361.3,156.0 L361.6,152.0 L362.0,149.0 L362.5,164.0 L363.0,178.0 L363.5,188.0 L364.0,194.0 L364.5,194.7 L365.0,193.0 L365.5,191.2 L366.0,192.0 L366.5,194.2 L367.0,193.0 L367.5,192.3 L368.0,194.0 L368.4,190.3 L368.7,188.0 L369.0,184.5 L369.4,180.0 L369.7,172.4 L370.0,164.0 L370.3,158.9 L370.6,153.0 L371.0,155.3 L371.3,155.0 L371.6,155.2 L372.0,156.0 L372.5,166.0 L373.0,176.0 L373.5,186.0 L374.0,194.0 L374.5,188.0 L375.0,183.0 L375.5,184.1 L376.0,188.0 L376.5,191.3 L377.0,193.0 L377.5,187.0 L378.0,182.0 L378.5,183.0 L379.0,183.0 L379.5,180.6 L380.0,181.0 L380.5,185.5 L381.0,187.0 L381.5,190.3 L382.0,193.0 L382.5,192.1 L383.0,194.0 L383.5,194.7 L384.0,194.0 L384.5,187.0 L385.0,182.0 L385.5,181.5 L386.0,185.0 L386.5,184.7 L387.0,187.0 L387.5,186.1 L388.0,184.0 L388.5,181.2 L389.0,183.0 L389.5,184.6 L390.0,186.0 L390.5,185.0 L391.0,188.0 L391.5,191.6 L392.0,193.0 L392.3,192.9 L392.6,195.0 L393.0,192.8 L393.3,190.0 L393.6,185.7 L394.0,186.0 L394.5,184.5 L395.0,184.0 L395.5,184.9 L396.0,183.0 L396.5,186.7 L397.0,189.0 L397.5,188.7 L398.0,194.0 L398.5,192.9 L399.0,189.0 L399.5,188.3 L400.0,185.0 L400.5,186.9 L401.0,190.0 L401.5,194.1 L402.0,194.0 L402.5,190.4 L403.0,190.0 L403.5,187.9 L404.0,186.0 L404.3,189.7 L404.6,190.0 L404.9,193.5 L405.2,193.0 L405.6,186.0 L406.0,170.0 L406.4,140.0 L406.8,110.0 L407.1,97.0 L407.3,94.9 L407.6,98.0 L408.0,115.0 L408.5,135.0 L409.0,150.0 L409.4,155.0 L409.8,148.0 L410.2,130.0 L410.6,110.0 L411.0,97.0 L411.3,94.1 L411.6,97.0 L412.0,112.0 L412.5,130.0 L413.0,142.0 L413.5,146.0 L414.0,138.0 L414.4,118.0 L414.8,96.0 L415.1,87.5 L415.6,87.2 L416.0,86.8 L416.5,86.7 L417.0,86.6 L417.5,86.5 L418.0,86.4 L418.3,85.7 L418.6,85.0 L418.9,83.5 L419.2,82.0 L419.6,80.5 L420.0,83.0 L420.4,92.0 L420.7,112.0 L421.0,135.0 L421.3,147.0 L421.8,138.0 L422.1,132.0 L422.4,126.0 L422.7,122.0 L423.0,118.0 L423.3,116.2 L423.6,114.5 L423.9,114.2 L424.2,114.0 L424.5,115.5 L424.8,117.0 L425.1,116.5 L425.4,116.0 L425.7,115.8 L426.0,115.5 L426.5,122.0 L427.0,138.0 L427.5,152.0 L428.0,160.0 L428.5,146.0 L429.0,132.0 L429.3,129.0 L429.6,126.0 L429.9,125.0 L430.2,124.0 L430.5,126.0 L430.8,128.0 L431.3,138.0 L431.8,146.0 L432.2,147.0 L432.6,138.0 L433.0,120.0 L433.5,100.0 L434.0,89.0 L434.4,86.6 L434.8,90.0 L435.3,105.0 L435.6,115.0 L435.9,125.0 L436.2,133.5 L436.5,142.0 L437.0,148.0 L437.4,138.0 L437.9,115.0 L438.4,97.0 L438.8,91.5 L439.1,91.1 L439.5,96.0 L440.0,115.0 L440.4,140.0 L440.7,153.0 L441.1,140.0 L441.6,122.0 L441.9,117.5 L442.2,113.0 L442.7,109.0 L443.0,108.0" fill="none" stroke="#a2a2a2" stroke-width="1.6" stroke-linejoin="round" stroke-linecap="round"/>
<line x1="136" x2="161.3" y1="266.3" y2="266.3" stroke="#1267c4" stroke-width="1.85" stroke-linecap="round"/>
<line x1="220.5" x2="245.8" y1="266.3" y2="266.3" stroke="#fb7516" stroke-width="1.85" stroke-linecap="round"/>
<line x1="330.3" x2="356.6" y1="266.3" y2="266.3" stroke="#a0a0a0" stroke-width="1.2" stroke-linecap="round"/>
</svg>
<div class="t" style="left:139.53px;top:19.69px;font-size:18.8px;color:#8a8a8a;transform:scaleX(0.9828);">Energy</div>
<div class="t" style="left:202.05px;top:19.69px;font-size:18.8px;color:#8a8a8a;transform:scaleX(1.0792);">production</div>
<div class="t" style="left:300.62px;top:19.69px;font-size:18.8px;color:#8a8a8a;transform:scaleX(0.9647);">TD1</div>
<div class="t" style="left:340.19px;top:19.69px;font-size:18.8px;color:#8a8a8a;transform:scaleX(1.0462);">model</div>
<div class="t" style="left:398.90px;top:19.69px;font-size:18.8px;color:#8a8a8a;transform:scaleX(0.9360);">A</div>
<div class="t" style="left:46.57px;top:54.00px;font-size:10.4px;color:#6e6e6e;transform:scaleX(1.0614);">300.0</div>
<div class="t" style="left:46.57px;top:77.08px;font-size:10.4px;color:#6e6e6e;transform:scaleX(1.0614);">250.0</div>
<div class="t" style="left:46.57px;top:100.16px;font-size:10.4px;color:#6e6e6e;transform:scaleX(1.0614);">200.0</div>
<div class="t" style="left:46.30px;top:123.25px;font-size:10.4px;color:#6e6e6e;transform:scaleX(1.0720);">150.0</div>
<div class="t" style="left:46.30px;top:146.33px;font-size:10.4px;color:#6e6e6e;transform:scaleX(1.0720);">100.0</div>
<div class="t" style="left:52.46px;top:169.41px;font-size:10.4px;color:#6e6e6e;transform:scaleX(1.0857);">50.0</div>
<div class="t" style="left:65.10px;top:191.10px;font-size:10.4px;color:#6e6e6e;transform:scaleX(1.0000);">-</div>
<div class="t" style="left:487.50px;top:53.80px;font-size:10.4px;color:#6e6e6e;transform:scaleX(0.9950);">70%</div>
<div class="t" style="left:487.50px;top:73.58px;font-size:10.4px;color:#6e6e6e;transform:scaleX(0.9950);">60%</div>
<div class="t" style="left:487.50px;top:93.37px;font-size:10.4px;color:#6e6e6e;transform:scaleX(0.9950);">50%</div>
<div class="t" style="left:487.75px;top:113.15px;font-size:10.4px;color:#6e6e6e;transform:scaleX(0.9827);">40%</div>
<div class="t" style="left:487.50px;top:132.94px;font-size:10.4px;color:#6e6e6e;transform:scaleX(0.9950);">30%</div>
<div class="t" style="left:487.50px;top:152.72px;font-size:10.4px;color:#6e6e6e;transform:scaleX(0.9950);">20%</div>
<div class="t" style="left:487.24px;top:172.51px;font-size:10.4px;color:#6e6e6e;transform:scaleX(1.0076);">10%</div>
<div class="t" style="left:487.19px;top:192.30px;font-size:10.4px;color:#6e6e6e;transform:scaleX(1.0105);">0%</div>
<div class="t" style="left:62.14px;top:207.43px;font-size:10.6px;color:#6e6e6e;transform:scaleX(1.1200);">2022/1/26</div>
<div class="t" style="left:172.89px;top:207.43px;font-size:10.6px;color:#6e6e6e;transform:scaleX(1.1200);">2022/1/27</div>
<div class="t" style="left:283.64px;top:207.43px;font-size:10.6px;color:#6e6e6e;transform:scaleX(1.1200);">2022/1/28</div>
<div class="t" style="left:394.39px;top:207.43px;font-size:10.6px;color:#6e6e6e;transform:scaleX(1.1200);">2022/1/29</div>
<div class="t" style="left:248.80px;top:226.33px;font-size:10.6px;color:#727272;transform:scaleX(1.0264);font-weight:bold;">Time [5 min.]</div>
<div class="t" style="left:164.64px;top:261.23px;font-size:10.6px;color:#6e6e6e;transform:scaleX(1.0164);">EP [kW]</div>
<div class="t" style="left:249.12px;top:261.23px;font-size:10.6px;color:#6e6e6e;transform:scaleX(1.0420);">EP pred [kW]</div>
<div class="t" style="left:359.43px;top:261.23px;font-size:10.6px;color:#6e6e6e;transform:scaleX(1.0250);">EP error [%]</div>
<div class="t" style="left:24.93px;top:146.68px;font-size:10.0px;color:#727272;transform:rotate(-90deg) scaleX(1.0345);font-weight:bold;">EP [kW]</div>
<div class="t" style="left:515.13px;top:146.15px;font-size:10.0px;color:#727272;transform:rotate(-90deg) scaleX(0.9908);font-weight:bold;">APE [%]</div>
</body></html>
